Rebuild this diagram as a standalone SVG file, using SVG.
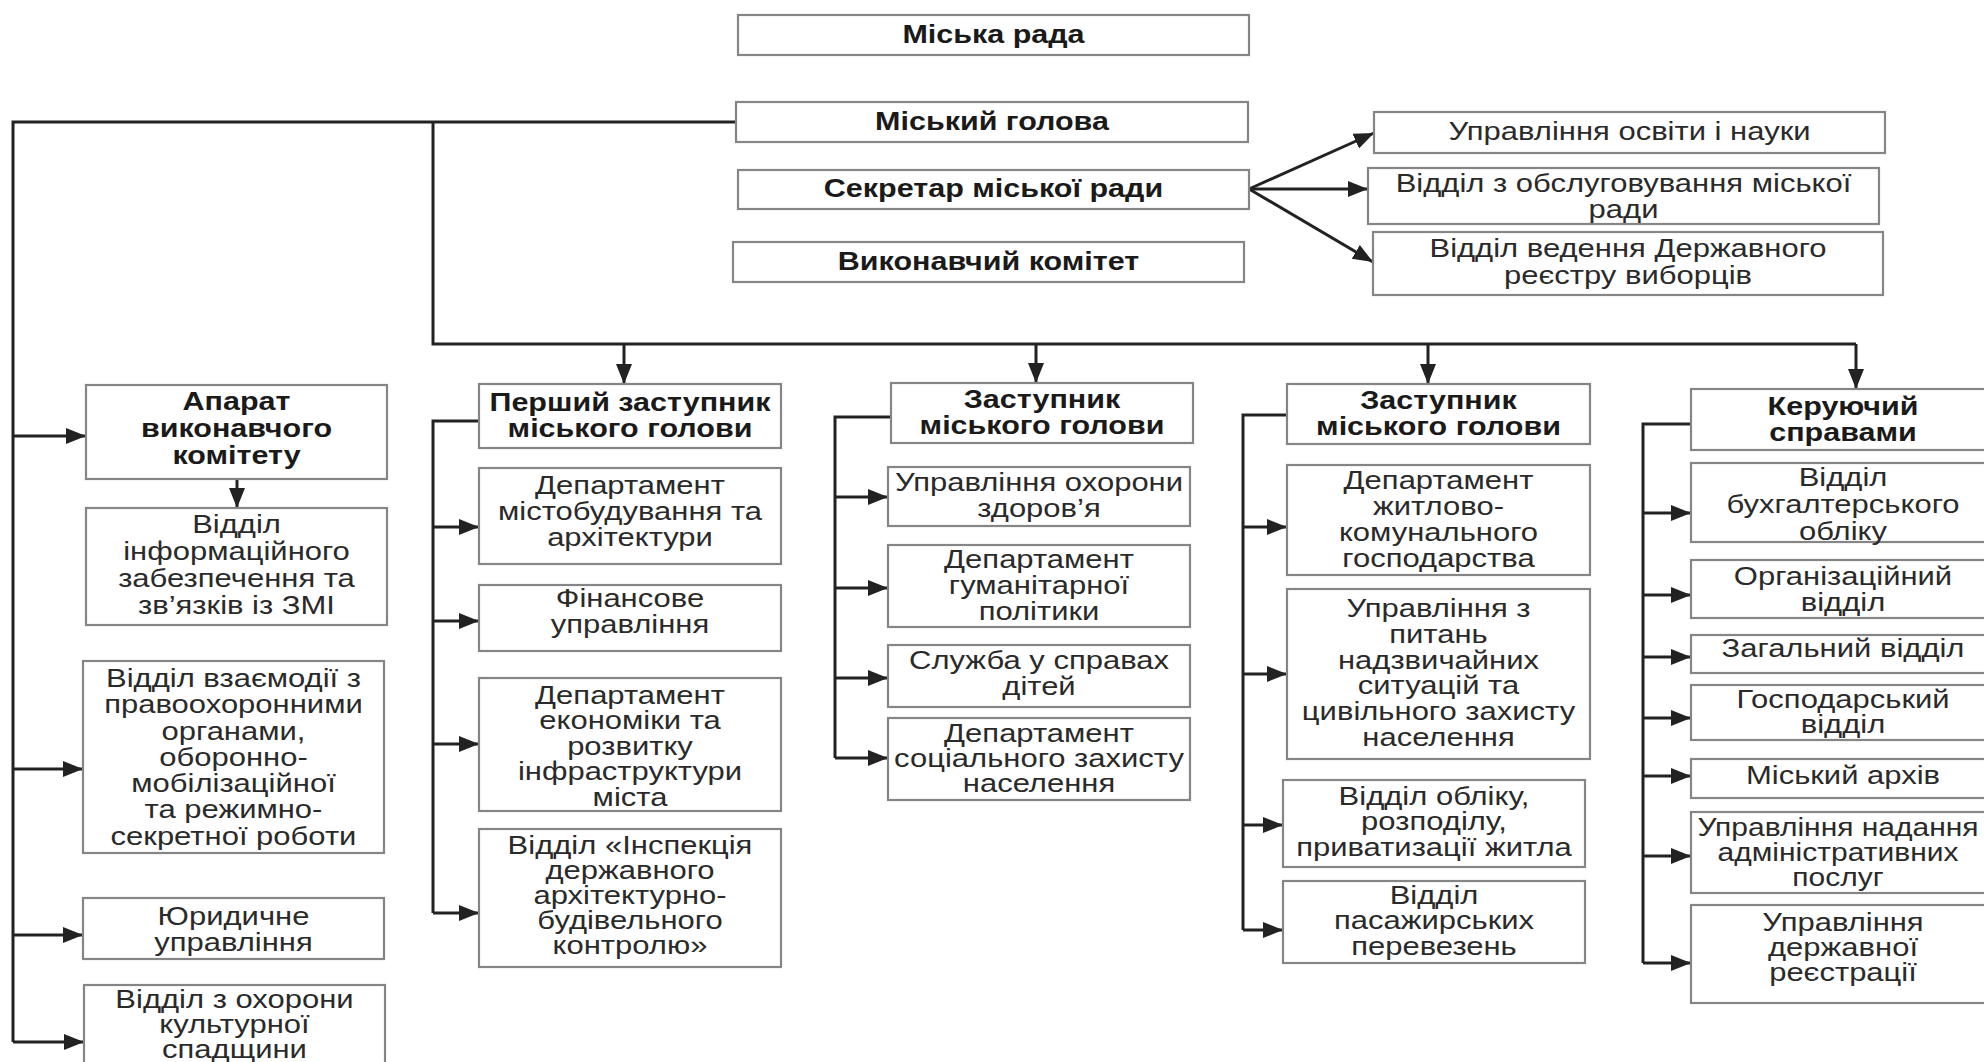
<svg xmlns="http://www.w3.org/2000/svg" width="1984" height="1062" viewBox="0 0 1984 1062">
<style>
.box{fill:#fff;stroke:#858585;stroke-width:2.2}
.t{font-family:"Liberation Sans",Arial,sans-serif;font-size:25px;fill:#2a2a2a;text-anchor:middle}
.b{font-weight:bold;fill:#1a1a1a}
.ln{stroke:#222;stroke-width:3;fill:none}
.ar{stroke:#222;stroke-width:3;fill:none;marker-end:url(#ah)}
</style>
<defs>
<marker id="ah" markerUnits="userSpaceOnUse" markerWidth="22" markerHeight="18" refX="20" refY="8" orient="auto">
<path d="M0,0 L20,8 L0,16 z" fill="#222"/>
</marker>
</defs>
<rect width="1984" height="1062" fill="#fff"/>

<g id="connectors">
<path class="ln" d="M736,122 H13 V1042"/>
<path class="ln" d="M433,122 V344 H1856"/>
<path class="ar" d="M624,344 V384"/>
<path class="ar" d="M1036,344 V383"/>
<path class="ar" d="M1428,344 V384"/>
<path class="ar" d="M1856,344 V389"/>
<path class="ar" d="M1249,189 L1374,133"/>
<path class="ar" d="M1249,189 L1368,189"/>
<path class="ar" d="M1249,189 L1373,262"/>
<path class="ar" d="M13,436 H86"/>
<path class="ar" d="M13,769 H83"/>
<path class="ar" d="M13,935 H83"/>
<path class="ar" d="M13,1042 H84"/>
<path class="ar" d="M237,479 V508"/>
<path class="ln" d="M479,421 H433 V913"/>
<path class="ar" d="M433,527 H479"/>
<path class="ar" d="M433,621 H479"/>
<path class="ar" d="M433,744 H479"/>
<path class="ar" d="M433,913 H479"/>
<path class="ln" d="M891,417 H835 V758"/>
<path class="ar" d="M835,497 H888"/>
<path class="ar" d="M835,588 H888"/>
<path class="ar" d="M835,678 H888"/>
<path class="ar" d="M835,758 H888"/>
<path class="ln" d="M1287,415 H1243 V930"/>
<path class="ar" d="M1243,527 H1287"/>
<path class="ar" d="M1243,674 H1287"/>
<path class="ar" d="M1243,825 H1283"/>
<path class="ar" d="M1243,930 H1283"/>
<path class="ln" d="M1691,424 H1643 V963"/>
<path class="ar" d="M1643,513 H1691"/>
<path class="ar" d="M1643,595 H1691"/>
<path class="ar" d="M1643,657 H1691"/>
<path class="ar" d="M1643,718 H1691"/>
<path class="ar" d="M1643,776 H1691"/>
<path class="ar" d="M1643,856 H1691"/>
<path class="ar" d="M1643,963 H1691"/>
</g>

<g id="n-miska-rada"><rect class="box" x="738" y="15" width="511" height="40"/>
<text class="t b" transform="matrix(1.22 0 0 1 993.5 0)"><tspan x="0" y="43">Міська рада</tspan></text></g>
<g id="n-holova"><rect class="box" x="736" y="102" width="512" height="40"/>
<text class="t b" transform="matrix(1.22 0 0 1 992 0)"><tspan x="0" y="130">Міський голова</tspan></text></g>
<g id="n-sekretar"><rect class="box" x="738" y="170" width="511" height="39"/>
<text class="t b" transform="matrix(1.22 0 0 1 993.5 0)"><tspan x="0" y="197.5">Секретар міської ради</tspan></text></g>
<g id="n-vykonkom"><rect class="box" x="733" y="242" width="511" height="40"/>
<text class="t b" transform="matrix(1.22 0 0 1 988.5 0)"><tspan x="0" y="270">Виконавчий комітет</tspan></text></g>

<g id="n-osvita"><rect class="box" x="1374" y="112" width="511" height="41"/>
<text class="t" transform="matrix(1.24 0 0 1 1629.5 0)"><tspan x="0" y="140">Управління освіти і науки</tspan></text></g>
<g id="n-obsluh"><rect class="box" x="1368" y="168" width="511" height="56"/>
<text class="t" transform="matrix(1.24 0 0 1 1623.5 0)"><tspan x="0" y="192">Відділ з обслуговування міської</tspan><tspan x="0" dy="26">ради</tspan></text></g>
<g id="n-reiestr"><rect class="box" x="1373" y="232" width="510" height="63"/>
<text class="t" transform="matrix(1.24 0 0 1 1628 0)"><tspan x="0" y="257">Відділ ведення Державного</tspan><tspan x="0" dy="27">реєстру виборців</tspan></text></g>

<g id="n-aparat"><rect class="box" x="86" y="385" width="301" height="94"/>
<text class="t b" transform="matrix(1.22 0 0 1 236.5 0)"><tspan x="0" y="410">Апарат</tspan><tspan x="0" dy="27">виконавчого</tspan><tspan x="0" dy="27">комітету</tspan></text></g>
<g id="n-info"><rect class="box" x="86" y="508" width="301" height="117"/>
<text class="t" transform="matrix(1.24 0 0 1 236.5 0)"><tspan x="0" y="533">Відділ</tspan><tspan x="0" dy="27">інформаційного</tspan><tspan x="0" dy="27">забезпечення та</tspan><tspan x="0" dy="27">зв’язків із ЗМІ</tspan></text></g>
<g id="n-vzaiemodii"><rect class="box" x="83" y="661" width="301" height="192"/>
<text class="t" transform="matrix(1.24 0 0 1 233.5 0)"><tspan x="0" y="687">Відділ взаємодії з</tspan><tspan x="0" dy="26.3">правоохоронними</tspan><tspan x="0" dy="26.3">органами,</tspan><tspan x="0" dy="26.3">оборонно-</tspan><tspan x="0" dy="26.3">мобілізаційної</tspan><tspan x="0" dy="26.3">та режимно-</tspan><tspan x="0" dy="26.3">секретної роботи</tspan></text></g>
<g id="n-yurydychne"><rect class="box" x="83" y="898" width="301" height="61"/>
<text class="t" transform="matrix(1.24 0 0 1 233.5 0)"><tspan x="0" y="925">Юридичне</tspan><tspan x="0" dy="26">управління</tspan></text></g>
<g id="n-kultura"><rect class="box" x="84" y="985" width="301" height="95"/>
<text class="t" transform="matrix(1.24 0 0 1 234.5 0)"><tspan x="0" y="1008">Відділ з охорони</tspan><tspan x="0" dy="25">культурної</tspan><tspan x="0" dy="25">спадщини</tspan></text></g>

<g id="n-pershyi"><rect class="box" x="479" y="384" width="302" height="64"/>
<text class="t b" transform="matrix(1.22 0 0 1 630 0)"><tspan x="0" y="411">Перший заступник</tspan><tspan x="0" dy="26">міського голови</tspan></text></g>
<g id="n-mistobud"><rect class="box" x="479" y="468" width="302" height="96"/>
<text class="t" transform="matrix(1.24 0 0 1 630 0)"><tspan x="0" y="494">Департамент</tspan><tspan x="0" dy="26">містобудування та</tspan><tspan x="0" dy="26">архітектури</tspan></text></g>
<g id="n-finansy"><rect class="box" x="479" y="585" width="302" height="66"/>
<text class="t" transform="matrix(1.24 0 0 1 630 0)"><tspan x="0" y="607">Фінансове</tspan><tspan x="0" dy="26">управління</tspan></text></g>
<g id="n-ekonomika"><rect class="box" x="479" y="678" width="302" height="133"/>
<text class="t" transform="matrix(1.24 0 0 1 630 0)"><tspan x="0" y="704">Департамент</tspan><tspan x="0" dy="25.5">економіки та</tspan><tspan x="0" dy="25.5">розвитку</tspan><tspan x="0" dy="25.5">інфраструктури</tspan><tspan x="0" dy="25.5">міста</tspan></text></g>
<g id="n-inspektsiia"><rect class="box" x="479" y="829" width="302" height="138"/>
<text class="t" transform="matrix(1.24 0 0 1 630 0)"><tspan x="0" y="854">Відділ «Інспекція</tspan><tspan x="0" dy="25">державного</tspan><tspan x="0" dy="25">архітектурно-</tspan><tspan x="0" dy="25">будівельного</tspan><tspan x="0" dy="25">контролю»</tspan></text></g>

<g id="n-zastupnyk-2"><rect class="box" x="891" y="383" width="302" height="60"/>
<text class="t b" transform="matrix(1.22 0 0 1 1042 0)"><tspan x="0" y="408">Заступник</tspan><tspan x="0" dy="26">міського голови</tspan></text></g>
<g id="n-zdorovia"><rect class="box" x="888" y="467" width="302" height="59"/>
<text class="t" transform="matrix(1.24 0 0 1 1039 0)"><tspan x="0" y="491">Управління охорони</tspan><tspan x="0" dy="26">здоров’я</tspan></text></g>
<g id="n-humanitarna"><rect class="box" x="888" y="545" width="302" height="82"/>
<text class="t" transform="matrix(1.24 0 0 1 1039 0)"><tspan x="0" y="568">Департамент</tspan><tspan x="0" dy="26">гуманітарної</tspan><tspan x="0" dy="26">політики</tspan></text></g>
<g id="n-dity"><rect class="box" x="888" y="645" width="302" height="62"/>
<text class="t" transform="matrix(1.24 0 0 1 1039 0)"><tspan x="0" y="669">Служба у справах</tspan><tspan x="0" dy="26">дітей</tspan></text></g>
<g id="n-sotszakhyst"><rect class="box" x="888" y="718" width="302" height="82"/>
<text class="t" transform="matrix(1.24 0 0 1 1039 0)"><tspan x="0" y="742">Департамент</tspan><tspan x="0" dy="25">соціального захисту</tspan><tspan x="0" dy="25">населення</tspan></text></g>

<g id="n-zastupnyk-3"><rect class="box" x="1287" y="384" width="303" height="60"/>
<text class="t b" transform="matrix(1.22 0 0 1 1438.5 0)"><tspan x="0" y="409">Заступник</tspan><tspan x="0" dy="26">міського голови</tspan></text></g>
<g id="n-zhkh"><rect class="box" x="1287" y="465" width="303" height="110"/>
<text class="t" transform="matrix(1.24 0 0 1 1438.5 0)"><tspan x="0" y="489">Департамент</tspan><tspan x="0" dy="26">житлово-</tspan><tspan x="0" dy="26">комунального</tspan><tspan x="0" dy="26">господарства</tspan></text></g>
<g id="n-ns"><rect class="box" x="1287" y="589" width="303" height="170"/>
<text class="t" transform="matrix(1.24 0 0 1 1438.5 0)"><tspan x="0" y="617">Управління з</tspan><tspan x="0" dy="25.8">питань</tspan><tspan x="0" dy="25.8">надзвичайних</tspan><tspan x="0" dy="25.8">ситуацій та</tspan><tspan x="0" dy="25.8">цивільного захисту</tspan><tspan x="0" dy="25.8">населення</tspan></text></g>
<g id="n-zhytlo"><rect class="box" x="1283" y="780" width="302" height="87"/>
<text class="t" transform="matrix(1.24 0 0 1 1434 0)"><tspan x="0" y="805">Відділ обліку,</tspan><tspan x="0" dy="25.5">розподілу,</tspan><tspan x="0" dy="25.5">приватизації житла</tspan></text></g>
<g id="n-perevezennia"><rect class="box" x="1283" y="881" width="302" height="82"/>
<text class="t" transform="matrix(1.24 0 0 1 1434 0)"><tspan x="0" y="904">Відділ</tspan><tspan x="0" dy="25.5">пасажирських</tspan><tspan x="0" dy="25.5">перевезень</tspan></text></g>

<g id="n-keruiuchyi"><rect class="box" x="1691" y="389" width="320" height="61"/>
<text class="t b" transform="matrix(1.22 0 0 1 1843 0)"><tspan x="0" y="415">Керуючий</tspan><tspan x="0" dy="26">справами</tspan></text></g>
<g id="n-bukh"><rect class="box" x="1691" y="463" width="320" height="79"/>
<text class="t" transform="matrix(1.24 0 0 1 1843 0)"><tspan x="0" y="486">Відділ</tspan><tspan x="0" dy="27">бухгалтерського</tspan><tspan x="0" dy="27">обліку</tspan></text></g>
<g id="n-orh"><rect class="box" x="1691" y="560" width="320" height="58"/>
<text class="t" transform="matrix(1.24 0 0 1 1843 0)"><tspan x="0" y="585">Організаційний</tspan><tspan x="0" dy="26">відділ</tspan></text></g>
<g id="n-zahalnyi"><rect class="box" x="1691" y="635" width="320" height="38"/>
<text class="t" transform="matrix(1.24 0 0 1 1843 0)"><tspan x="0" y="657">Загальний відділ</tspan></text></g>
<g id="n-hospodarskyi"><rect class="box" x="1691" y="685" width="320" height="55"/>
<text class="t" transform="matrix(1.24 0 0 1 1843 0)"><tspan x="0" y="708">Господарський</tspan><tspan x="0" dy="25">відділ</tspan></text></g>
<g id="n-arkhiv"><rect class="box" x="1691" y="759" width="320" height="39"/>
<text class="t" transform="matrix(1.24 0 0 1 1843 0)"><tspan x="0" y="784">Міський архів</tspan></text></g>
<g id="n-adminposluhy"><rect class="box" x="1691" y="812" width="320" height="81"/>
<text class="t" transform="matrix(1.2 0 0 1 1838 0)"><tspan x="0" y="836">Управління надання</tspan><tspan x="0" dy="25">адміністративних</tspan><tspan x="0" dy="25">послуг</tspan></text></g>
<g id="n-derzhreiestr"><rect class="box" x="1691" y="905" width="320" height="98"/>
<text class="t" transform="matrix(1.24 0 0 1 1843 0)"><tspan x="0" y="931">Управління</tspan><tspan x="0" dy="25">державної</tspan><tspan x="0" dy="25">реєстрації</tspan></text></g>
</svg>
